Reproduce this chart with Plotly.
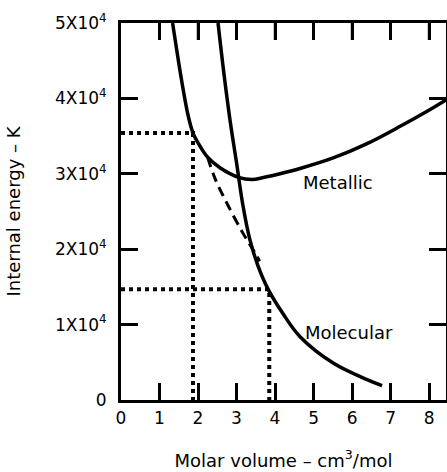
import plotly.graph_objects as go

# Metallic curve (molar volume cm^3/mol, internal energy K)
metallic_v = [1.34, 1.58, 1.74, 1.87, 1.99, 2.25, 2.57, 3.07, 3.4, 3.7, 4.13, 4.65, 5.51, 6.39, 7.25, 7.95, 8.44]
metallic_e = [50000, 42200, 37800, 35400, 34200, 32200, 30800, 29500, 29250, 29500, 30000, 30700, 32100, 34000, 36300, 38300, 39800]

# Molecular curve
molecular_v = [2.52, 2.68, 2.84, 3.00, 3.16, 3.35, 3.55, 3.83, 4.2, 4.65, 5.51, 6.39, 6.78]
molecular_e = [50000, 43000, 36800, 31500, 26000, 21200, 17900, 14600, 11500, 8400, 4900, 2700, 1900]

# Dashed common-tangent line
tangent_v = [2.25, 2.44, 2.75, 3.17, 3.48, 3.60]
tangent_e = [32200, 29400, 26100, 22100, 19500, 18400]

# Dotted guide lines (volume, energy)
guide_v = [1.87, 3.85]
guide_e = [35400, 14700]

x_ticks = [0, 1, 2, 3, 4, 5, 6, 7, 8]
y_ticks = [0, 10000, 20000, 30000, 40000, 50000]
y_ticktext = ["0", "1X10<sup>4</sup>", "2X10<sup>4</sup>", "3X10<sup>4</sup>",
              "4X10<sup>4</sup>", "5X10<sup>4</sup>"]

FONT = "DejaVu Sans"
TICKLEN = 17
X_RANGE = [0, 8.44]
Y_RANGE = [0, 50000]
PLOT_H = 472 - 23 - 72

fig = go.Figure()

for v, e in zip(guide_v, guide_e):
    fig.add_trace(go.Scatter(x=[0, v, v], y=[e, e, 0], mode="lines",
                             line=dict(color="black", width=4, dash="4px,4px"),
                             hoverinfo="skip", showlegend=False))

fig.add_trace(go.Scatter(x=tangent_v, y=tangent_e, mode="lines",
                         line=dict(color="black", width=3, dash="10px,6px", shape="spline"),
                         showlegend=False))
fig.add_trace(go.Scatter(x=metallic_v, y=metallic_e, mode="lines", name="Metallic",
                         line=dict(color="black", width=3.5, shape="spline", smoothing=1.0),
                         showlegend=False))
fig.add_trace(go.Scatter(x=molecular_v, y=molecular_e, mode="lines", name="Molecular",
                         line=dict(color="black", width=3.5, shape="spline", smoothing=1.0),
                         showlegend=False))

# inward tick marks along the top frame, built from the x tick list and the y range
tick_depth = (Y_RANGE[1] - Y_RANGE[0]) * TICKLEN / PLOT_H
top_x, top_y = [], []
for t in x_ticks[1:]:
    top_x += [t, t, None]
    top_y += [Y_RANGE[1], Y_RANGE[1] - tick_depth, None]
fig.add_trace(go.Scatter(x=top_x, y=top_y, mode="lines",
                         line=dict(color="black", width=2.5),
                         hoverinfo="skip", showlegend=False))

fig.add_annotation(x=5.64, y=28800, text="Metallic", showarrow=False,
                   font=dict(family=FONT, size=18, color="black"))
fig.add_annotation(x=5.92, y=8900, text="Molecular", showarrow=False,
                   font=dict(family=FONT, size=18, color="black"))

axis_common = dict(showgrid=False, zeroline=False, showline=True, linecolor="black",
                   linewidth=3, mirror="ticks", ticks="inside", ticklen=TICKLEN,
                   tickwidth=2.5, tickcolor="black", automargin=False,
                   tickfont=dict(family=FONT, size=17, color="black"))

fig.update_xaxes(range=X_RANGE, tickvals=x_ticks, ticktext=[str(t) for t in x_ticks],
                 title=dict(text="Molar volume \u2013 cm<sup>3</sup>/mol",
                            font=dict(family=FONT, size=18, color="black"), standoff=27),
                 ticklabelstandoff=1, **axis_common)
fig.update_yaxes(range=Y_RANGE, tickvals=y_ticks, ticktext=y_ticktext,
                 title=dict(text="Internal energy \u2013 K",
                            font=dict(family=FONT, size=18, color="black"), standoff=30),
                 ticklabelstandoff=8, **axis_common)

fig.update_layout(width=447, height=472, margin=dict(l=121, r=1, t=23, b=72),
                  plot_bgcolor="white", paper_bgcolor="white",
                  font=dict(family=FONT, color="black"))

fig.write_html("out.html", config={"displayModeBar": False},
               post_script="document.body.style.margin='0';document.body.style.overflow='hidden';")
